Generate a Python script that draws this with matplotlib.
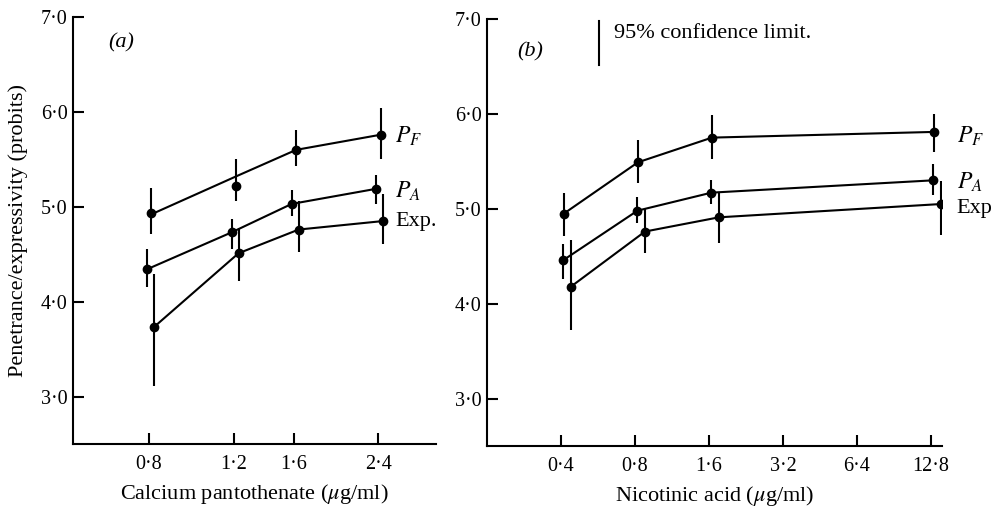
import matplotlib
matplotlib.use("Agg")
import matplotlib.pyplot as plt
import matplotlib.transforms as mtransforms
from matplotlib.ticker import FixedLocator, FixedFormatter, NullLocator

plt.rcParams['font.family'] = ['Liberation Serif', 'DejaVu Serif']
plt.rcParams['mathtext.fontset'] = 'stix'

# ---------------- data ----------------
# Panel (a): calcium pantothenate
dose_a = [0.8, 1.2, 1.6, 2.4]
dose_a_labels = ['0·8', '1·2', '1·6', '2·4']
pf_a = [4.93, 5.22, 5.60, 5.76]
pf_a_line = [4.92, 5.32, 5.60, 5.76]
pf_a_lo = [4.71, 5.06, 5.43, 5.50]
pf_a_hi = [5.20, 5.50, 5.81, 6.04]
pa_a = [4.34, 4.73, 5.03, 5.19]
pa_a_lo = [4.15, 4.56, 4.90, 5.03]
pa_a_hi = [4.55, 4.87, 5.18, 5.34]
exp_a = [3.73, 4.51, 4.76, 4.85]
exp_a_lo = [3.11, 4.22, 4.52, 4.61]
exp_a_hi = [4.29, 4.78, 5.06, 5.13]

# Panel (b): nicotinic acid
dose_b = [0.4, 0.8, 1.6, 12.8]
tick_b = [0.4, 0.8, 1.6, 3.2, 6.4, 12.8]
tick_b_labels = ['0·4', '0·8', '1·6', '3·2', '6·4', '12·8']
pf_b = [4.95, 5.49, 5.75, 5.81]
pf_b_lo = [4.71, 5.27, 5.52, 5.60]
pf_b_hi = [5.17, 5.72, 5.99, 6.00]
pa_b = [4.46, 4.98, 5.17, 5.30]
pa_b_lo = [4.26, 4.85, 5.05, 5.14]
pa_b_hi = [4.63, 5.12, 5.30, 5.47]
exp_b = [4.18, 4.76, 4.91, 5.05]
exp_b_lo = [3.72, 4.53, 4.64, 4.72]
exp_b_hi = [4.67, 5.01, 5.17, 5.29]

y_ticks = [3.0, 4.0, 5.0, 6.0, 7.0]
y_tick_labels = ['3·0', '4·0', '5·0', '6·0', '7·0']

# ---------------- figure ----------------
fig = plt.figure(figsize=(9.97, 5.12), dpi=100)
ax_a = fig.add_axes([73/997, 1-444/512, 363/997, 427/512])
ax_b = fig.add_axes([487/997, 1-446/512, 455/997, 427/512])

FS_TICK = 14.5
FS = 16
LW = 1.5


def shift(ax, dx_px):
    return ax.transData + mtransforms.ScaledTranslation(dx_px/100, 0, fig.dpi_scale_trans)


def series(ax, x, y, lo, hi, dx, yline=None):
    tr = shift(ax, dx)
    if yline is None:
        yline = y
    ax.plot(x, yline, color='black', lw=LW, transform=tr, solid_capstyle='butt')
    ax.plot(x, y, 'o', color='black', ms=6, transform=tr)
    ax.vlines(x, lo, hi, color='black', lw=LW, transform=tr)


def style(ax, xlim, ticks, labels, xlabel):
    ax.set_xscale('log')
    ax.set_xlim(*xlim)
    ax.set_ylim(2.5, 7.0)
    ax.xaxis.set_major_locator(FixedLocator(ticks))
    ax.xaxis.set_major_formatter(FixedFormatter(labels))
    ax.xaxis.set_minor_locator(NullLocator())
    ax.set_yticks(y_ticks)
    ax.set_yticklabels(y_tick_labels)
    for s in ['top', 'right']:
        ax.spines[s].set_visible(False)
    for s in ['left', 'bottom']:
        ax.spines[s].set_linewidth(LW)
    ax.tick_params(axis='both', direction='in', length=8, width=LW, labelsize=FS_TICK)
    ax.tick_params(axis='x', pad=8)
    ax.tick_params(axis='y', pad=4)
    ax.set_xlabel(xlabel, fontsize=FS, labelpad=6)
    ax.set_facecolor('none')


# panel a
series(ax_a, dose_a, pf_a, pf_a_lo, pf_a_hi, 2.5, yline=pf_a_line)
series(ax_a, dose_a, pa_a, pa_a_lo, pa_a_hi, -2.0)
series(ax_a, dose_a, exp_a, exp_a_lo, exp_a_hi, 5.0)
style(ax_a, (0.557, 3.16), dose_a, dose_a_labels, 'Calcium pantothenate ($\\mu$g/ml)')
ax_a.set_ylabel('Penetrance/expressivity (probits)', fontsize=FS, labelpad=9)
ax_a.text(0.096, 0.939, '(a)', transform=ax_a.transAxes, fontsize=FS, style='italic', va='center')
ax_a.text(2.6, 5.74, '$P_F$', fontsize=FS+1, va='center', clip_on=False)
ax_a.text(2.6, 5.16, '$P_A$', fontsize=FS+1, va='center', clip_on=False)
ax_a.text(2.6, 4.84, 'Exp.', fontsize=FS, va='center', clip_on=False)

# panel b
series(ax_b, dose_b, pf_b, pf_b_lo, pf_b_hi, 3.0)
series(ax_b, dose_b, pa_b, pa_b_lo, pa_b_hi, 2.5)
series(ax_b, dose_b, exp_b, exp_b_lo, exp_b_hi, 10.0)
style(ax_b, (0.2, 14.2), tick_b, tick_b_labels, 'Nicotinic acid ($\\mu$g/ml)')
ax_b.text(0.066, 0.923, '(b)', transform=ax_b.transAxes, fontsize=FS, style='italic', va='center')
ax_b.text(16.3, 5.76, '$P_F$', fontsize=FS+1, va='center', clip_on=False)
ax_b.text(16.3, 5.28, '$P_A$', fontsize=FS+1, va='center', clip_on=False)
ax_b.text(16.3, 5.0, 'Exp', fontsize=FS, va='center', clip_on=False)

# confidence legend
fig.add_artist(plt.Line2D([599/997, 599/997], [1-65/512, 1-21/512], color='black', lw=LW))
fig.text(614/997, 1-33/512, '95% confidence limit.', fontsize=FS, va='center')

fig.savefig('out.png', dpi=100)
